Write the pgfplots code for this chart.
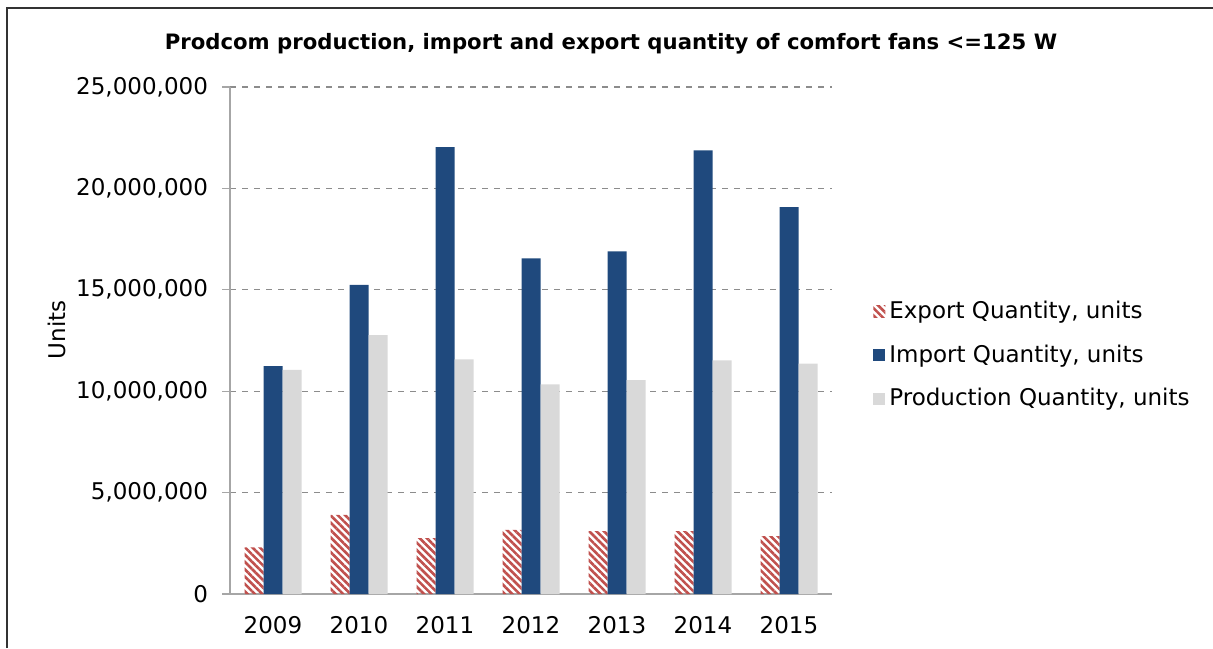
\documentclass[border=0pt]{standalone}
\usepackage{pgfplots}
\pgfplotsset{compat=1.18}
\usepackage{fontspec}
\setmainfont{DejaVu Sans}
\usetikzlibrary{patterns.meta}

\definecolor{expred}{HTML}{C0504D}
\definecolor{impblue}{HTML}{1F497D}
\definecolor{prodgray}{HTML}{D9D9D9}
\definecolor{gridgray}{HTML}{8C8C8C}
\definecolor{axisgray}{HTML}{A6A6A6}

\pgfplotstableread{
x  export   import    production
0  2300000  11240000  11050000
1  3900000  15240000  12770000
2  2760000  22030000  11570000
3  3160000  16550000  10340000
4  3100000  16900000  10550000
5  3100000  21880000  11520000
6  2860000  19080000  11360000
}\fans

\begin{document}
\begin{tikzpicture}
\path[use as bounding box] (0,0) rectangle (606.5pt,324pt);
\draw[line width=0.9pt, black!80] (3.5pt,0) -- (3.5pt,320pt) -- (606.5pt,320pt);

\node[font=\bfseries\fontsize{10.6}{12}\selectfont, anchor=base] at (305.5pt,299pt)
  {Prodcom production, import and export quantity of comfort fans <=125 W};
\node[font=\fontsize{11.5}{13}\selectfont, rotate=90] at (28.5pt,159pt) {Units};

\begin{axis}[
  at={(115pt,27pt)}, anchor=south west,
  scale only axis, width=301pt, height=253.5pt,
  ybar=0pt, bar width=9.5pt,
  xmin=-0.5, xmax=6.5, ymin=0, ymax=25000000,
  xtick=data, xticklabels={2009,2010,2011,2012,2013,2014,2015},
  ytick={0,5000000,10000000,15000000,20000000,25000000},
  scaled y ticks=false,
  /pgf/number format/.cd, fixed, 1000 sep={,}, assume math mode=true,
  /pgfplots/.cd,
  axis x line*=bottom, axis y line*=left,
  axis line style={axisgray, line width=0.8pt},
  x tick style={draw=none},
  y tick style={axisgray, line width=0.6pt},
  tick align=outside, major tick length=4pt,
  ymajorgrids, grid style={gridgray, dashed, line width=0.6pt},
  tick label style={font=\fontsize{11.5}{13}\selectfont},
  yticklabel style={xshift=-3.5pt},
  xticklabel style={yshift=-3.5pt},
  legend style={at={(1.068,0.471)}, anchor=west, draw=none, fill=none,
    inner sep=0pt, row sep=7.5pt, font=\fontsize{11.5}{13}\selectfont,
    cells={anchor=west}},
  legend image code/.code={\path[#1] (0pt,-3pt) rectangle (6pt,3pt);},
]
\addplot[draw=none, pattern={Lines[angle=-45, distance=2.6pt, line width=1.3pt]}, pattern color=expred]
  table[x=x, y=export] {\fans};
\addlegendentry{Export Quantity, units}
\addplot[draw=none, fill=impblue] table[x=x, y=import] {\fans};
\addlegendentry{Import Quantity, units}
\addplot[draw=none, fill=prodgray] table[x=x, y=production] {\fans};
\addlegendentry{Production Quantity, units}
\end{axis}
\end{tikzpicture}
\end{document}
